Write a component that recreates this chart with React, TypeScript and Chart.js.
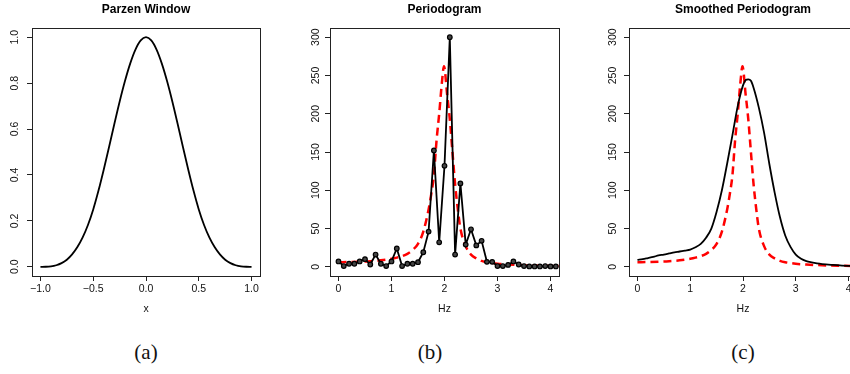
import React, { useEffect, useRef } from "react";
import { Chart, registerables } from "chart.js";

Chart.register(...registerables);

// ---------- data ----------
const parzenX = [
  -1, -0.95, -0.9, -0.85, -0.8, -0.75, -0.7, -0.65, -0.6, -0.55, -0.5, -0.45, -0.4, -0.35, -0.3, -0.25, -0.2, -0.15, -0.1, -0.05,
  0, 0.05, 0.1, 0.15, 0.2, 0.25, 0.3, 0.35, 0.4, 0.45, 0.5, 0.55, 0.6, 0.65, 0.7, 0.75, 0.8, 0.85, 0.9, 0.95, 1,
];
const parzenW = [
  0, 0.0003, 0.002, 0.0068, 0.016, 0.031, 0.054, 0.086, 0.128, 0.182, 0.25, 0.332, 0.424, 0.522, 0.622, 0.719, 0.808, 0.885, 0.946, 0.986,
  1, 0.986, 0.946, 0.885, 0.808, 0.719, 0.622, 0.522, 0.424, 0.332, 0.25, 0.182, 0.128, 0.086, 0.054, 0.031, 0.016, 0.0068, 0.002, 0.0003, 0,
];

const periodogramHz = [
  0, 0.1, 0.2, 0.3, 0.4, 0.5, 0.6, 0.7, 0.8, 0.9, 1.0, 1.1, 1.2, 1.3, 1.4, 1.5, 1.6, 1.7, 1.8, 1.9, 2.0,
  2.1, 2.2, 2.3, 2.4, 2.5, 2.6, 2.7, 2.8, 2.9, 3.0, 3.1, 3.2, 3.3, 3.4, 3.5, 3.6, 3.7, 3.8, 3.9, 4.0, 4.1,
];
const periodogram = [
  7, 1, 4, 4, 7, 10, 3, 16, 4, 1, 7, 24, 1, 4, 4, 6, 19, 46, 152, 32, 132,
  300, 16, 109, 29, 49, 28, 34, 6.5, 6.5, 1, 1, 2.5, 7, 3, 1, 0.5, 0.5, 0.5, 1, 0.5, 0.5,
];

const trueSpecHz = [
  0, 0.2, 0.4, 0.6, 0.8, 1.0, 1.1, 1.2, 1.3, 1.4, 1.5, 1.6, 1.7, 1.75, 1.8, 1.85, 1.9, 1.95, 1.99,
  2.05, 2.1, 2.15, 2.2, 2.25, 2.3, 2.4, 2.5, 2.6, 2.7, 2.8, 3.0, 3.2, 3.5, 3.8, 4.2,
];
const trueSpec = [
  6, 6.2, 6.6, 7.3, 8.5, 10.5, 12, 14, 17, 22, 30, 46, 75, 95, 120, 165, 200, 240, 262,
  225, 193, 150, 108, 76, 50, 27, 16, 11, 7.8, 6, 4, 3, 2, 1.4, 0.9,
];

const smoothHz = [
  0, 0.1, 0.2, 0.3, 0.4, 0.5, 0.6, 0.7, 0.8, 0.9, 1.0, 1.1, 1.2, 1.3, 1.4, 1.5, 1.6, 1.7, 1.8, 1.9,
  2.0, 2.05, 2.1, 2.15, 2.2, 2.3, 2.4, 2.5, 2.6, 2.7, 2.8, 2.9, 3.0, 3.1, 3.2, 3.3, 3.4, 3.5, 3.7, 4.0, 4.2,
];
const smoothed = [
  9, 10, 11.5, 13, 14.8, 16, 17.5, 19, 20, 21.2, 22.5, 25.5, 30, 38, 50, 72, 100, 135, 172, 210,
  237, 244, 245, 243, 234, 208, 175, 134, 97, 65, 41, 26, 16, 10.5, 7.5, 5.8, 4.5, 3.6, 2.5, 1.2, 0.8,
];

const xTicksParzen = [-1, -0.5, 0, 0.5, 1];
const yTicksParzen = [0, 0.2, 0.4, 0.6, 0.8, 1.0];
const xTicksHz = [0, 1, 2, 3, 4];
const yTicksSpec = [0, 50, 100, 150, 200, 250, 300];

const panelTitles = ["Parzen Window", "Periodogram", "Smoothed Periodogram"];
const axisTitles = ["x", "Hz", "Hz"];
const captions = ["(a)", "(b)", "(c)"];

// ---------- helpers ----------
const FONT = "'Liberation Sans', Arial, Helvetica, sans-serif";
const pts = (xs: number[], ys: number[]) => xs.map((x, i) => ({ x, y: ys[i] }));
const fmtSigned = (v: number, d: number) => (v < 0 ? "\u2212" + Math.abs(v).toFixed(d) : v.toFixed(d));

const boxPlugin = {
  id: "rbox",
  afterDatasetsDraw(chart: any) {
    const { ctx, chartArea: a } = chart;
    ctx.save();
    ctx.strokeStyle = "#222";
    ctx.lineWidth = 1;
    ctx.strokeRect(a.left + 0.5, a.top + 0.5, a.right - a.left, a.bottom - a.top);
    ctx.restore();
  },
};

type PanelProps = {
  left: number;
  width: number;
  height: number;
  yAxisW: number;
  padRight: number;
  xMin: number;
  xMax: number;
  yMin: number;
  yMax: number;
  xTicks: number[];
  yTicks: number[];
  xFmt: (v: number) => string;
  yFmt: (v: number) => string;
  yPad: number;
  title: string;
  xTitle: string;
  datasets: any[];
};

function Panel(p: PanelProps) {
  const ref = useRef<HTMLCanvasElement | null>(null);
  useEffect(() => {
    if (!ref.current) return;
    const tickFont = { family: FONT, size: 10.5 };
    const grid = {
      drawOnChartArea: false,
      drawTicks: true,
      tickLength: 5,
      color: "#222",
      lineWidth: 1,
    };
    const chart = new Chart(ref.current, {
      type: "line",
      data: { datasets: p.datasets },
      plugins: [boxPlugin],
      options: {
        responsive: false,
        animation: false,
        layout: { padding: { left: 0, right: p.padRight, top: 0, bottom: 0 } },
        plugins: {
          legend: { display: false },
          tooltip: { enabled: false },
          title: {
            display: true,
            text: p.title,
            fullSize: false,
            color: "#000",
            font: { family: FONT, size: 12, weight: "bold" },
            padding: { top: 2.5, bottom: 11.1 },
          },
        },
        scales: {
          x: {
            type: "linear",
            min: p.xMin,
            max: p.xMax,
            afterFit: (s: any) => {
              s.height = p.height - 276;
            },
            afterBuildTicks: (s: any) => {
              s.ticks = p.xTicks.map((v) => ({ value: v }));
            },
            grid,
            border: { display: false },
            ticks: {
              color: "#111",
              font: tickFont,
              padding: 2,
              maxRotation: 0,
              autoSkip: false,
              callback: (v: any) => p.xFmt(Number(v)),
            },
            title: {
              display: true,
              text: p.xTitle,
              color: "#111",
              font: { family: FONT, size: 10.5 },
              padding: { top: 0, bottom: 14.7 },
            },
          },
          y: {
            type: "linear",
            min: p.yMin,
            max: p.yMax,
            afterFit: (s: any) => {
              s.width = p.yAxisW;
            },
            afterBuildTicks: (s: any) => {
              s.ticks = p.yTicks.map((v) => ({ value: v }));
            },
            grid,
            border: { display: false },
            ticks: {
              color: "#111",
              font: tickFont,
              padding: p.yPad,
              minRotation: 90,
              maxRotation: 90,
              crossAlign: "center",
              autoSkip: false,
              callback: (v: any) => p.yFmt(Number(v)),
            },
          },
        },
      } as any,
    });
    return () => chart.destroy();
  }, []);
  return (
    <canvas
      ref={ref}
      width={p.width}
      height={p.height}
      style={{ position: "absolute", left: p.left, top: 0, width: p.width, height: p.height }}
    />
  );
}

const blackLine = (data: any[], smooth: boolean, points: boolean) => ({
  data,
  borderColor: "#000",
  backgroundColor: "#333",
  borderWidth: 1.8,
  pointRadius: points ? 2.3 : 0,
  pointBorderWidth: 1.2,
  pointBorderColor: "#000",
  pointBackgroundColor: "#444",
  tension: 0,
  cubicInterpolationMode: smooth ? "monotone" : "default",
  fill: false,
});

const redDashed = (data: any[]) => ({
  data,
  borderColor: "#ff0000",
  borderWidth: 2.5,
  borderDash: [8, 5],
  pointRadius: 0,
  cubicInterpolationMode: "monotone",
  fill: false,
});

export default function App() {
  const H = 330;
  return (
    <div
      style={{
        position: "absolute",
        left: 0,
        top: 0,
        width: 850,
        height: 374,
        overflow: "hidden",
        background: "#fff",
      }}
    >
      <Panel
        left={0}
        width={285}
        height={H}
        yAxisW={32}
        padRight={25}
        xMin={-1.08}
        xMax={1.08}
        yMin={-0.04}
        yMax={1.04}
        xTicks={xTicksParzen}
        yTicks={yTicksParzen}
        xFmt={(v) => fmtSigned(v, 1)}
        yFmt={(v) => v.toFixed(1)}
        yPad={4.5}
        title={panelTitles[0]}
        xTitle={axisTitles[0]}
        datasets={[blackLine(pts(parzenX, parzenW), true, false)]}
      />
      <Panel
        left={285}
        width={285}
        height={H}
        yAxisW={45}
        padRight={11}
        xMin={-0.16}
        xMax={4.16}
        yMin={-12}
        yMax={312}
        xTicks={xTicksHz}
        yTicks={yTicksSpec}
        xFmt={(v) => String(v)}
        yFmt={(v) => String(v)}
        yPad={0}
        title={panelTitles[1]}
        xTitle={axisTitles[1]}
        datasets={[
          blackLine(pts(periodogramHz, periodogram), false, true),
          redDashed(pts(trueSpecHz, trueSpec)),
        ]}
      />
      <Panel
        left={570}
        width={300}
        height={H}
        yAxisW={59}
        padRight={13}
        xMin={-0.16}
        xMax={4.16}
        yMin={-12}
        yMax={312}
        xTicks={xTicksHz}
        yTicks={yTicksSpec}
        xFmt={(v) => String(v)}
        yFmt={(v) => String(v)}
        yPad={2}
        title={panelTitles[2]}
        xTitle={axisTitles[2]}
        datasets={[
          blackLine(pts(smoothHz, smoothed), true, false),
          redDashed(pts(trueSpecHz, trueSpec)),
        ]}
      />
      {captions.map((c, i) => (
        <div
          key={c}
          style={{
            position: "absolute",
            left: [146, 430, 743][i] - 40,
            width: 80,
            top: 339,
            textAlign: "center",
            fontFamily: "'Liberation Serif', 'DejaVu Serif', serif",
            fontSize: 21,
            lineHeight: "26px",
            color: "#111",
          }}
        >
          {c}
        </div>
      ))}
    </div>
  );
}
